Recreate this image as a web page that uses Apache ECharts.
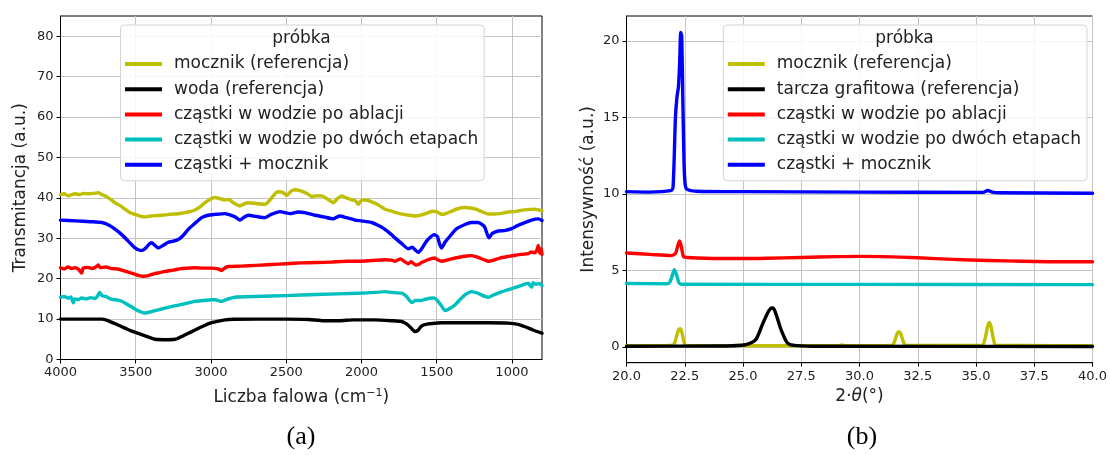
<!DOCTYPE html>
<html><head><meta charset="utf-8">
<script src="https://cdn.jsdelivr.net/npm/echarts@6/dist/echarts.min.js"></script>
<style>html,body{margin:0;padding:0;background:#fff}#c{width:1110px;height:455px}</style>
</head><body><div id="c"></div>
<script>
// ---------- Panel (a): FTIR ----------
const ftirTicksX = [1000, 1500, 2000, 2500, 3000, 3500, 4000];
const ftirTicksY = [0, 10, 20, 30, 40, 50, 60, 70, 80];

const ftirUreaW = [4000,3975,3948,3925,3904,3870,3850,3815,3780,3749,3730,3704,3670,3638,3600,3571,3540,3505,3470,3438,3400,3370,3328,3280,3240,3195,3150,3106,3070,3040,3000,2973,2940,2907,2880,2852,2807,2780,2752,2700,2641,2600,2570,2553,2520,2497,2470,2442,2410,2375,2350,2331,2300,2264,2230,2187,2160,2131,2100,2065,2040,2021,2005,1988,1960,1932,1890,1844,1800,1777,1720,1680,1644,1600,1560,1523,1495,1467,1440,1400,1360,1312,1280,1240,1200,1157,1120,1080,1024,980,940,900,847,820,800];
const ftirUreaT = [40.8,41.0,40.5,40.8,41.0,40.8,41.1,41.0,41.1,41.3,40.9,40.5,39.7,38.8,38.0,37.2,36.4,35.9,35.5,35.3,35.5,35.6,35.7,35.9,36.0,36.2,36.5,37.0,37.8,38.8,39.8,40.1,39.8,39.5,39.6,38.8,38.0,38.5,38.8,38.6,38.4,39.8,41.2,41.5,41.3,40.6,41.6,42.0,41.8,41.3,40.8,40.3,40.5,40.5,39.8,38.8,39.8,40.5,40.0,39.5,39.3,38.4,39.2,39.5,39.4,39.0,38.3,37.2,36.7,36.4,35.9,35.7,35.5,35.8,36.3,36.7,36.5,35.9,36.1,36.7,37.3,37.6,37.5,37.2,36.6,36.0,36.0,36.1,36.5,36.6,36.9,37.1,37.2,37.0,36.8];

const ftirWaterW = [4000,3850,3726,3690,3640,3593,3530,3456,3410,3372,3300,3239,3200,3150,3106,3050,2995,2950,2907,2850,2700,2500,2350,2250,2150,2050,1910,1800,1733,1700,1670,1645,1625,1600,1556,1500,1467,1300,1150,1024,960,913,860,800];
const ftirWaterT = [10.0,10.0,10.0,9.7,8.9,8.1,7.1,6.1,5.5,5.0,4.9,5.0,5.6,6.5,7.3,8.3,9.1,9.5,9.8,9.95,10.0,10.0,9.9,9.6,9.6,9.8,9.8,9.6,9.4,8.8,7.8,6.9,7.2,8.3,8.8,9.0,9.1,9.1,9.1,9.0,8.7,8.1,7.3,6.5];

const ftirAblW = [4000,3975,3950,3925,3904,3880,3859,3850,3820,3790,3760,3749,3735,3700,3660,3620,3593,3550,3500,3456,3420,3380,3340,3306,3250,3200,3150,3106,3050,3000,2950,2929,2910,2885,2800,2700,2600,2497,2400,2300,2200,2100,2021,1930,1844,1800,1777,1740,1720,1689,1670,1640,1622,1600,1570,1556,1530,1512,1490,1467,1440,1401,1350,1300,1268,1220,1180,1157,1120,1080,1024,980,940,891,870,850,835,825,815,805,800];
const ftirAblT = [22.7,22.4,22.9,22.5,22.7,22.3,21.4,22.6,22.8,22.5,23.0,23.4,22.7,22.9,22.5,22.4,22.1,21.6,21.0,20.6,20.7,21.2,21.5,21.8,22.1,22.5,22.6,22.7,22.6,22.6,22.4,22.0,22.6,23.0,23.1,23.3,23.5,23.7,23.9,24.0,24.1,24.3,24.3,24.5,24.7,24.6,24.3,24.9,24.4,23.7,24.2,23.4,23.5,24.0,24.5,24.7,25.0,25.1,24.6,24.3,24.5,24.9,25.3,25.6,25.7,25.2,24.6,24.3,24.6,25.1,25.5,25.8,26.0,26.2,26.6,26.4,27.0,28.2,26.3,27.4,26.0];

const ftirTwoW = [4000,3975,3950,3930,3915,3905,3882,3860,3830,3800,3770,3749,3740,3725,3700,3660,3620,3593,3550,3500,3460,3438,3400,3350,3306,3250,3200,3150,3106,3050,3000,2973,2929,2900,2840,2700,2497,2300,2021,1910,1844,1800,1733,1700,1680,1666,1640,1600,1578,1523,1500,1470,1445,1420,1379,1330,1300,1268,1220,1180,1157,1120,1080,1024,980,940,910,891,880,869,860,840,820,800];
const ftirTwoT = [15.4,15.6,15.2,15.5,14.0,15.0,14.8,15.2,15.0,15.3,15.1,16.0,16.6,15.8,15.6,14.9,14.7,14.4,13.5,12.4,11.7,11.5,11.8,12.3,12.7,13.2,13.6,14.0,14.4,14.6,14.8,14.8,14.4,14.8,15.4,15.6,15.8,16.1,16.4,16.6,16.8,16.6,16.4,15.6,14.6,14.1,14.6,14.6,14.9,15.2,14.8,13.4,12.1,12.5,13.5,15.4,16.3,16.8,16.3,15.6,15.4,16.0,16.6,17.3,17.8,18.3,18.7,18.9,18.3,17.9,19.0,18.6,18.8,18.3];

const ftirUreaPW = [4000,3900,3800,3726,3680,3640,3593,3550,3505,3470,3456,3430,3410,3394,3375,3350,3320,3284,3250,3217,3185,3151,3110,3062,3020,2973,2907,2885,2840,2807,2780,2752,2700,2641,2600,2541,2505,2475,2420,2370,2309,2250,2187,2160,2143,2100,2043,2000,1932,1890,1844,1800,1777,1730,1689,1662,1640,1622,1600,1567,1535,1516,1495,1480,1467,1445,1412,1370,1312,1270,1224,1195,1179,1153,1130,1091,1050,1002,960,913,870,825,800];
const ftirUreaPT = [34.5,34.3,34.1,33.9,33.3,32.3,30.9,29.3,27.6,27.0,27.0,27.7,28.6,28.9,28.3,27.6,28.2,29.0,29.3,29.7,30.7,32.2,33.6,35.1,35.7,35.9,36.1,35.9,35.3,34.5,35.2,35.7,35.4,35.1,35.9,36.6,36.3,36.1,36.5,36.3,35.7,35.3,34.8,35.3,35.5,35.1,34.5,34.3,33.9,33.2,32.2,30.9,30.1,28.6,27.4,27.8,27.0,26.5,27.4,29.3,30.5,30.9,30.4,28.5,27.6,29.0,30.5,32.3,33.4,33.9,33.9,33.3,32.6,30.1,31.2,31.8,31.9,32.4,33.2,33.9,34.5,34.8,34.4];

// ---------- Panel (b): XRD ----------
const xrdTicksY = [0, 5, 10, 15, 20];

const xrdUreaA = [20,21.9,22.05,22.15,22.25,22.31,22.38,22.47,22.55,24.5,24.7,24.9,29.1,29.25,29.4,31.4,31.52,31.62,31.69,31.76,31.86,31.98,35.25,35.38,35.5,35.57,35.64,35.75,35.85,37,40];
const xrdUreaI = [0.08,0.1,0.2,0.7,1.15,1.2,0.95,0.3,0.1,0.08,0.12,0.08,0.08,0.13,0.08,0.1,0.45,0.9,1.0,0.9,0.45,0.1,0.1,0.5,1.35,1.6,1.35,0.5,0.1,0.09,0.08];

const xrdGraphA = [20,24,24.8,25.2,25.55,25.83,26.05,26.18,26.26,26.34,26.47,26.58,26.69,26.9,27.2,28,40];
const xrdGraphI = [0.05,0.06,0.09,0.18,0.48,1.46,2.2,2.5,2.55,2.45,1.9,1.35,0.92,0.27,0.1,0.05,0.03];

const xrdAblA = [20,21,21.9,22.1,22.2,22.28,22.36,22.45,22.6,24,25,26,27.5,29,30,31,32.5,34,35.5,37,38.5,40];
const xrdAblI = [6.14,6.05,5.97,6.1,6.6,6.93,6.5,5.9,5.85,5.78,5.78,5.8,5.85,5.9,5.92,5.9,5.83,5.72,5.65,5.6,5.57,5.57];

const xrdTwoA = [20,21.7,21.85,21.95,22.05,22.15,22.25,22.35,30,40];
const xrdTwoI = [4.15,4.13,4.2,4.6,5.05,4.7,4.2,4.1,4.09,4.07];

const xrdUreaPA = [20,21,21.5,21.8,21.95,22.0,22.05,22.1,22.17,22.23,22.28,22.33,22.37,22.42,22.47,22.52,22.6,23,25,30,35.3,35.5,35.7,36,40];
const xrdUreaPI = [10.15,10.12,10.15,10.2,10.25,10.5,12.5,15.0,16.4,17.0,18.5,20.55,20.3,16.0,12.0,10.6,10.3,10.18,10.15,10.12,10.1,10.22,10.12,10.08,10.05];

const namesA = ['mocznik (referencja)','woda (referencja)','cząstki w wodzie po ablacji','cząstki w wodzie po dwóch etapach','cząstki + mocznik'];
const namesB = ['mocznik (referencja)','tarcza grafitowa (referencja)','cząstki w wodzie po ablacji','cząstki w wodzie po dwóch etapach','cząstki + mocznik'];
const colors = ['#bfbf00','#000000','#ff0000','#00bfbf','#0000ff'];

const zip = (xs, ys) => xs.map((x, i) => [x, ys[i]]);
const FONT = 'DejaVu Sans';

function mkSeries(name, color, data, gi, smooth) {
  return {
    type: 'line', name, xAxisIndex: gi, yAxisIndex: gi, data,
    showSymbol: false, symbol: 'none', smooth: smooth,
    lineStyle: { color, width: 3.4, cap: 'round', join: 'round' },
    itemStyle: { color }, animation: false, silent: true
  };
}

const seriesA = [zip(ftirUreaW, ftirUreaT), zip(ftirWaterW, ftirWaterT), zip(ftirAblW, ftirAblT), zip(ftirTwoW, ftirTwoT), zip(ftirUreaPW, ftirUreaPT)];
const seriesB = [zip(xrdUreaA, xrdUreaI), zip(xrdGraphA, xrdGraphI), zip(xrdAblA, xrdAblI), zip(xrdTwoA, xrdTwoI), zip(xrdUreaPA, xrdUreaPI)];

const series = [];
seriesA.forEach((d, i) => series.push(mkSeries(namesA[i], colors[i], d, 0, 0.2)));
seriesB.forEach((d, i) => series.push(mkSeries(namesB[i], colors[i], d, 1, 0.25)));

const axisCommon = {
  axisLine: { show: true, onZero: false, lineStyle: { color: '#000', width: 1 } },
  axisTick: { show: true, inside: false, length: 4, lineStyle: { color: '#000' } },
  splitLine: { show: true, lineStyle: { color: '#c4c4c4', width: 1 } },
  axisLabel: { color: '#222', fontFamily: FONT, fontSize: 13, margin: 7 },
  nameTextStyle: { color: '#222', fontFamily: FONT, fontSize: 17 }
};
function ax(extra) {
  const o = JSON.parse(JSON.stringify(axisCommon));
  for (const k in extra) {
    if (typeof extra[k] === 'object' && !Array.isArray(extra[k]) && o[k]) Object.assign(o[k], extra[k]);
    else o[k] = extra[k];
  }
  return o;
}

const legendCommon = {
  orient: 'vertical', icon: 'rect', itemWidth: 37, itemHeight: 4, itemGap: 8.2,
  backgroundColor: 'rgba(255,255,255,0.85)', borderColor: '#d4d4d4', borderWidth: 1, borderRadius: 4,
  padding: [30.5, 6, 7.5, 4.5], selectedMode: false,
  textStyle: { color: '#222', fontFamily: FONT, fontSize: 17, lineHeight: 17, padding: [0, 0, 0, 7] }
};

const option = {
  animation: false,
  backgroundColor: '#fff',
  grid: [
    { left: 60.5, top: 16, width: 481.5, height: 343.5, show: true, borderColor: '#000', borderWidth: 1 },
    { left: 626.5, top: 16, width: 469, height: 346.7, show: true, borderColor: '#000', borderWidth: 1 }
  ],
  xAxis: [
    ax({ type: 'value', gridIndex: 0, inverse: true, min: 800, max: 4000,
      name: 'Liczba falowa (cm{sup|−1})', nameLocation: 'middle', nameGap: 28,
      nameTextStyle: { rich: { sup: { fontSize: 11, verticalAlign: 'top', padding: [0,0,9,0], fontFamily: FONT, color: '#222' } } },
      axisTick: { customValues: ftirTicksX }, axisLabel: { customValues: ftirTicksX, formatter: v => String(v) } }),
    ax({ type: 'value', gridIndex: 1, min: 20, max: 40, interval: 2.5,
      name: '2·{i|θ}(°)', nameLocation: 'middle', nameGap: 25,
      nameTextStyle: { rich: { i: { fontStyle: 'italic', fontSize: 17, fontFamily: FONT, color: '#222' } } },
      axisLabel: { formatter: v => v.toFixed(1) } })
  ],
  yAxis: [
    ax({ type: 'value', gridIndex: 0, min: 0, max: 85,
      name: 'Transmitancja (a.u.)', nameLocation: 'middle', nameGap: 31,
      axisTick: { customValues: ftirTicksY }, axisLabel: { customValues: ftirTicksY } }),
    ax({ type: 'value', gridIndex: 1, min: -1.03, max: 21.63,
      name: 'Intensywność (a.u.)', nameLocation: 'middle', nameGap: 29,
      axisTick: { customValues: xrdTicksY }, axisLabel: { customValues: xrdTicksY } })
  ],
  legend: [
    Object.assign({}, legendCommon, { left: 120.5, top: 25, data: namesA }),
    Object.assign({}, legendCommon, { left: 723.3, top: 25, data: namesB })
  ],
  graphic: [
    { type: 'text', x: 301.5, y: 39, z: 100, style: { text: 'próbka', fill: '#222', font: '17px "DejaVu Sans"', textAlign: 'center', textVerticalAlign: 'middle' } },
    { type: 'text', x: 904.5, y: 39, z: 100, style: { text: 'próbka', fill: '#222', font: '17px "DejaVu Sans"', textAlign: 'center', textVerticalAlign: 'middle' } },
    { type: 'text', x: 301, y: 437, z: 100, style: { text: '(a)', fill: '#000', font: '26px "Liberation Serif"', textAlign: 'center', textVerticalAlign: 'middle' } },
    { type: 'text', x: 862, y: 437, z: 100, style: { text: '(b)', fill: '#000', font: '26px "Liberation Serif"', textAlign: 'center', textVerticalAlign: 'middle' } }
  ],
  series
};

const chart = echarts.init(document.getElementById('c'), null, { renderer: 'canvas' });
chart.setOption(option);
</script></body></html>
